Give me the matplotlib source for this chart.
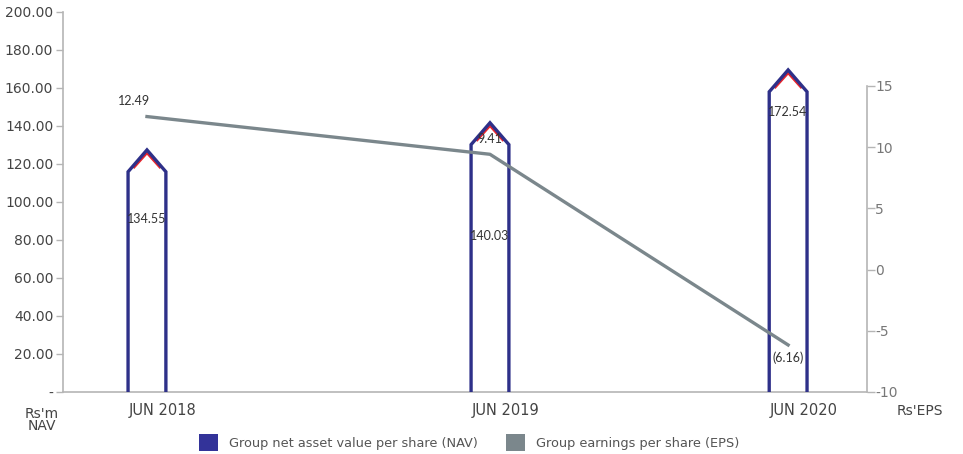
import matplotlib.pyplot as plt
import matplotlib.transforms as mtransforms
from matplotlib.patches import Polygon, Patch
from matplotlib.ticker import FuncFormatter

plt.rcParams["axes.unicode_minus"] = False

# data
years = ["JUN 2018", "JUN 2019", "JUN 2020"]
nav = [134.55, 140.03, 172.54]
nav_drawn = [127.4, 141.7, 169.5]   # tip of the pencil shapes as drawn in the source
eps = [12.49, 9.41, -6.16]
eps_labels = ["12.49", "9.41", "(6.16)"]

NAVY = "#2e3089"
RED = "#e8242b"
GREY = "#7b878c"
AXIS = "#b5b5b5"
TXT = "#444444"

fig = plt.figure(figsize=(9.63, 4.54), dpi=100)
ax = fig.add_axes([0.0654, 0.1366, 0.8349, 0.837])
ax2 = ax.twinx()

# category slots are not evenly spaced in the source layout
x = [0, 1.07, 2]
w = 0.118
tip_h = 11.5

for xi, top, val, ly in zip(x, nav_drawn, nav, [91, 82, 147.5]):
    sh = top - tip_h
    pts = [(xi - w / 2, 0), (xi - w / 2, sh), (xi, top), (xi + w / 2, sh), (xi + w / 2, 0)]
    ax.add_patch(Polygon(pts, closed=False, facecolor="white", edgecolor="none", zorder=2))
    ax.plot([xi - w * 0.36, xi, xi + w * 0.36],
            [sh - 1.3 + 0.28 * tip_h, top - 1.6, sh - 1.3 + 0.28 * tip_h],
            color=RED, lw=1.8, zorder=3, solid_capstyle="butt")
    px, py = zip(*pts)
    ax.plot(px, py, color=NAVY, lw=2.4, zorder=4, solid_joinstyle="miter")
    ax.text(xi, ly, f"{val:.2f}", ha="center", va="center", fontsize=9,
            family="Lato", color="#333333", zorder=6)

ax.set_xlim(-0.262, 2.246)
ax.set_ylim(0, 200)
ax.set_yticks(range(0, 201, 20))
ax.yaxis.set_major_formatter(FuncFormatter(lambda v, p: "-" if v == 0 else f"{v:.2f}"))
ax.set_xticks(x)
ax.set_xticklabels(years)
ax.tick_params(axis="x", length=0, pad=8, labelsize=10.5, labelcolor=TXT)
ax.tick_params(axis="y", length=5, width=1, color=AXIS, labelsize=10, labelcolor=TXT, pad=2)
shift = mtransforms.ScaledTranslation(16 / 100, 0, fig.dpi_scale_trans)
for lab in ax.get_xticklabels():
    lab.set_transform(lab.get_transform() + shift)

for s in ["top", "right"]:
    ax.spines[s].set_visible(False)
ax.spines["left"].set_color(AXIS)
ax.spines["bottom"].set_color(AXIS)
ax.spines["left"].set_linewidth(1.2)
ax.spines["bottom"].set_linewidth(1.2)

# EPS line
ax2.plot(x, eps, color=GREY, lw=2.4, zorder=5)
ax2.set_zorder(ax.get_zorder() + 1)
ax2.patch.set_visible(False)
ax2.set_ylim(-10, 21.03)
ax2.set_yticks(range(-10, 16, 5))
ax2.tick_params(axis="y", length=6, width=1, color=AXIS, labelsize=10, labelcolor="#777777", pad=0)
for s in ["top", "left", "bottom"]:
    ax2.spines[s].set_visible(False)
ax2.spines["right"].set_color(AXIS)
ax2.spines["right"].set_linewidth(1.2)
ax2.spines["right"].set_bounds(-10, 15)

offsets = [(-9, 11), (0, 11), (0, -9.5)]
for xi, v, lab, (dx, dy) in zip(x, eps, eps_labels, offsets):
    ax2.annotate(lab, (xi, v), xytext=(dx, dy), textcoords="offset points",
                 ha="center", va="center", fontsize=9, family="Lato", color="#333333")

fig.text(0.043, 0.075, "Rs'm\nNAV", ha="center", va="center", fontsize=10,
         color=TXT, linespacing=0.9)
fig.text(0.955, 0.095, "Rs'EPS", ha="center", va="center", fontsize=10, color=TXT)

handles = [Patch(facecolor="#333399", edgecolor="none"),
           Patch(facecolor=GREY, edgecolor="none")]
fig.legend(handles, ["Group net asset value per share (NAV)", "Group earnings per share (EPS)"],
           loc="lower center", bbox_to_anchor=(0.487, -0.02), ncol=2, frameon=False,
           fontsize=9.3, labelcolor="#555555", handlelength=1.5, handleheight=1.7,
           handletextpad=0.8, columnspacing=2.2)

fig.savefig("out.png", dpi=100)
